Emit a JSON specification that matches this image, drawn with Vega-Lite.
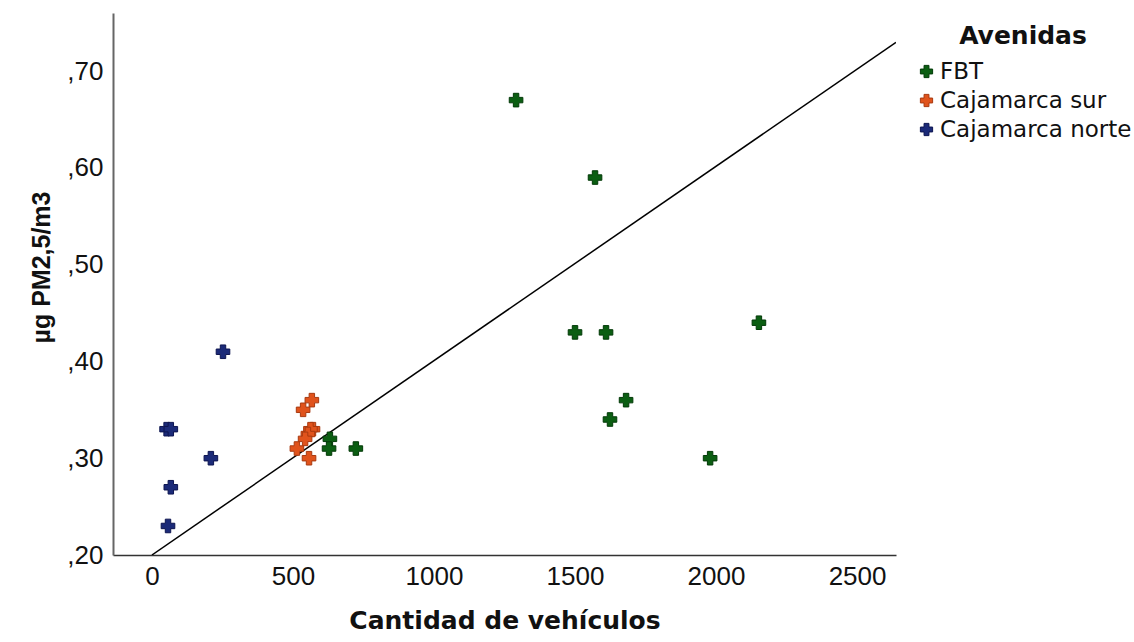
{
  "$schema": "https://vega.github.io/schema/vega-lite/v6.json",
  "width": 783,
  "height": 542,
  "autosize": {"type": "none"},
  "padding": {"left": 113, "top": 13, "right": 238, "bottom": 87},
  "background": "white",
  "config": {"view": {"stroke": null}},
  "datasets": {
    "points": [
      {"vehiculos": 1291, "pm": 0.67, "avenida": "FBT"},
      {"vehiculos": 1571, "pm": 0.59, "avenida": "FBT"},
      {"vehiculos": 1500, "pm": 0.43, "avenida": "FBT"},
      {"vehiculos": 1610, "pm": 0.43, "avenida": "FBT"},
      {"vehiculos": 2152, "pm": 0.44, "avenida": "FBT"},
      {"vehiculos": 1681, "pm": 0.36, "avenida": "FBT"},
      {"vehiculos": 1624, "pm": 0.34, "avenida": "FBT"},
      {"vehiculos": 1979, "pm": 0.30, "avenida": "FBT"},
      {"vehiculos": 631, "pm": 0.32, "avenida": "FBT"},
      {"vehiculos": 628, "pm": 0.31, "avenida": "FBT"},
      {"vehiculos": 723, "pm": 0.31, "avenida": "FBT"},
      {"vehiculos": 567, "pm": 0.36, "avenida": "Cajamarca sur"},
      {"vehiculos": 536, "pm": 0.35, "avenida": "Cajamarca sur"},
      {"vehiculos": 571, "pm": 0.33, "avenida": "Cajamarca sur"},
      {"vehiculos": 562, "pm": 0.33, "avenida": "Cajamarca sur"},
      {"vehiculos": 553, "pm": 0.325, "avenida": "Cajamarca sur"},
      {"vehiculos": 543, "pm": 0.32, "avenida": "Cajamarca sur"},
      {"vehiculos": 514, "pm": 0.31, "avenida": "Cajamarca sur"},
      {"vehiculos": 557, "pm": 0.30, "avenida": "Cajamarca sur"},
      {"vehiculos": 252, "pm": 0.41, "avenida": "Cajamarca norte"},
      {"vehiculos": 52, "pm": 0.33, "avenida": "Cajamarca norte"},
      {"vehiculos": 67, "pm": 0.33, "avenida": "Cajamarca norte"},
      {"vehiculos": 209, "pm": 0.30, "avenida": "Cajamarca norte"},
      {"vehiculos": 67, "pm": 0.27, "avenida": "Cajamarca norte"},
      {"vehiculos": 57, "pm": 0.23, "avenida": "Cajamarca norte"}
    ],
    "fit": [
      {"vehiculos": 0, "pm": 0.2},
      {"vehiculos": 2638, "pm": 0.7297}
    ]
  },
  "layer": [
    {
      "data": {"name": "fit"},
      "mark": {"type": "line", "color": "black", "strokeWidth": 1.5, "clip": true},
      "encoding": {
        "x": {"field": "vehiculos", "type": "quantitative"},
        "y": {"field": "pm", "type": "quantitative"}
      }
    },
    {
      "data": {"name": "points"},
      "mark": {"type": "point", "shape": "cross", "filled": true, "size": 185, "opacity": 1, "strokeWidth": 1},
      "encoding": {
        "x": {
          "field": "vehiculos",
          "type": "quantitative",
          "scale": {"domain": [-138, 2638], "nice": false, "zero": false},
          "axis": {
            "title": "Cantidad de vehículos",
            "values": [0, 500, 1000, 1500, 2000, 2500],
            "format": "d",
            "grid": false,
            "ticks": false,
            "labelPadding": 8,
            "labelFont": "Liberation Sans",
            "labelFontSize": 26,
            "labelColor": "#111",
            "domainColor": "#333",
            "domainWidth": 1.5,
            "titleFont": "DejaVu Sans",
            "titleFontWeight": "bold",
            "titleFontSize": 25,
            "titleColor": "#111",
            "titlePadding": 19
          }
        },
        "y": {
          "field": "pm",
          "type": "quantitative",
          "scale": {"domain": [0.2, 0.76], "nice": false, "zero": false},
          "axis": {
            "title": "µg PM2,5/m3",
            "values": [0.2, 0.3, 0.4, 0.5, 0.6, 0.7],
            "labelExpr": "replace(format(datum.value, '.2f'), '0.', ',')",
            "grid": false,
            "ticks": false,
            "labelPadding": 10,
            "labelFont": "Liberation Sans",
            "labelFontSize": 26,
            "labelColor": "#111",
            "domainColor": "#666",
            "domainWidth": 2,
            "titleFont": "Liberation Sans",
            "titleFontWeight": "bold",
            "titleFontSize": 25,
            "titleColor": "#111",
            "titlePadding": 12,
            "titleY": 254
          }
        },
        "color": {
          "field": "avenida",
          "type": "nominal",
          "scale": {
            "domain": ["FBT", "Cajamarca sur", "Cajamarca norte"],
            "range": ["#0b5e12", "#e0531c", "#1b2a78"]
          },
          "legend": {
            "title": "Avenidas",
            "orient": "none",
            "legendX": 802,
            "legendY": 11,
            "titleFont": "DejaVu Sans",
            "titleFontWeight": "bold",
            "titleFontSize": 25,
            "titleColor": "#111",
            "titleAnchor": "middle",
            "titlePadding": 11,
            "titleLimit": 0,
            "labelFont": "DejaVu Sans",
            "labelFontSize": 23,
            "labelColor": "#111",
            "labelLimit": 0,
            "labelOffset": 2,
            "symbolType": "cross",
            "symbolSize": 150,
            "symbolStrokeWidth": 1,
            "rowPadding": 5
          }
        },
        "stroke": {
          "field": "avenida",
          "type": "nominal",
          "scale": {
            "domain": ["FBT", "Cajamarca sur", "Cajamarca norte"],
            "range": ["#033a08", "#a83a10", "#0d1550"]
          },
          "legend": null
        }
      }
    }
  ]
}
